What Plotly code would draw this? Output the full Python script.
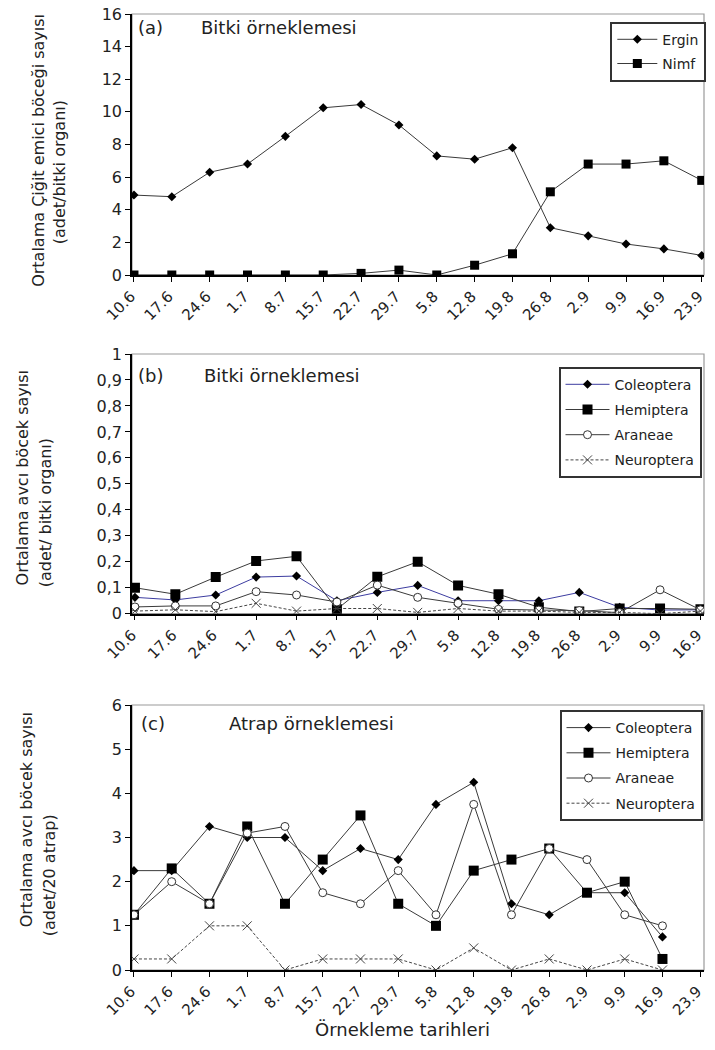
import plotly.graph_objects as go

# ---------------- data ----------------
dates_all = ["10.6", "17.6", "24.6", "1.7", "8.7", "15.7", "22.7", "29.7",
             "5.8", "12.8", "19.8", "26.8", "2.9", "9.9", "16.9", "23.9"]

# (a) plant sampling - sucking bug
ergin = [4.9, 4.8, 6.3, 6.8, 8.5, 10.25, 10.45, 9.2, 7.3, 7.1, 7.8, 2.9, 2.4, 1.9, 1.6, 1.2]
nimf = [0, 0, 0, 0, 0, 0, 0.1, 0.3, 0, 0.6, 1.3, 5.1, 6.8, 6.8, 7.0, 5.8]

# (b) plant sampling - predators
dates_b = dates_all[:15]
b_coleoptera = [0.063, 0.053, 0.072, 0.141, 0.145, 0.05, 0.082, 0.109, 0.05, 0.05, 0.05, 0.082, 0.025, 0.014, 0.015]
b_hemiptera = [0.10, 0.075, 0.141, 0.203, 0.221, 0.017, 0.142, 0.20, 0.109, 0.075, 0.025, 0.008, 0.02, 0.02, 0.017]
b_araneae = [0.026, 0.03, 0.03, 0.085, 0.072, 0.045, 0.11, 0.063, 0.04, 0.017, 0.014, 0.012, 0.004, 0.092, 0.015]
b_neuroptera = [0.01, 0.015, 0.008, 0.04, 0.01, 0.02, 0.02, 0.005, 0.02, 0.01, 0.01, 0.005, 0.005, 0.0, 0.01]
b_ticks = [0, 0.1, 0.2, 0.3, 0.4, 0.5, 0.6, 0.7, 0.8, 0.9, 1]
b_ticktext = ["0", "0,1", "0,2", "0,3", "0,4", "0,5", "0,6", "0,7", "0,8", "0,9", "1"]

# (c) sweep-net sampling - predators
dates_c = dates_all[:15]
c_coleoptera = [2.25, 2.25, 3.25, 3.0, 3.0, 2.25, 2.75, 2.5, 3.75, 4.25, 1.5, 1.25, 1.75, 1.75, 0.75]
c_hemiptera = [1.25, 2.3, 1.5, 3.25, 1.5, 2.5, 3.5, 1.5, 1.0, 2.25, 2.5, 2.75, 1.75, 2.0, 0.25]
c_araneae = [1.25, 2.0, 1.5, 3.1, 3.25, 1.75, 1.5, 2.25, 1.25, 3.75, 1.25, 2.75, 2.5, 1.25, 1.0]
c_neuroptera = [0.25, 0.25, 1.0, 1.0, 0.0, 0.25, 0.25, 0.25, 0.0, 0.5, 0.0, 0.25, 0.0, 0.25, 0.0]

# ---------------- layout helpers ----------------
OFF = 8                      # default page margin around the plot div
W, H = 715 - 2 * OFF, 1050 - 2 * OFF
L, R, T = 132 - OFF, 1, 13 - OFF
B = H - (970 - OFF)
PW, PH = W - L - R, H - T - B


def px(x):
    """page pixel x -> paper fraction"""
    return (x - OFF - L) / PW


def py(y):
    """page pixel y -> paper fraction"""
    return (H - B - (y - OFF)) / PH


FONT = "DejaVu Sans"
LINE = "#3a3a3a"
BLUE = "#3c3ca0"

fig = go.Figure()


def diamond(name, x, y, legend, group, color=LINE):
    return go.Scatter(x=x, y=y, name=name, mode="lines+markers",
                      line=dict(color=color, width=1),
                      marker=dict(symbol="diamond", size=7, color="black"),
                      legend=legend, legendgroup=group)


def square(name, x, y, legend, group, size=9):
    return go.Scatter(x=x, y=y, name=name, mode="lines+markers",
                      line=dict(color=LINE, width=1),
                      marker=dict(symbol="square", size=size, color="black"),
                      legend=legend, legendgroup=group)


def circle(name, x, y, legend, group):
    return go.Scatter(x=x, y=y, name=name, mode="lines+markers",
                      line=dict(color=LINE, width=1),
                      marker=dict(symbol="circle", size=8, color="white",
                                  line=dict(color="#333", width=1)),
                      legend=legend, legendgroup=group)


def cross(name, x, y, legend, group):
    return go.Scatter(x=x, y=y, name=name, mode="lines+markers",
                      line=dict(color="#444", width=1, dash="3px,2px"),
                      marker=dict(symbol="x-thin-open", size=9,
                                  line=dict(color="#444", width=1)),
                      legend=legend, legendgroup=group)


# panel (a)
t = diamond("Ergin", dates_all, ergin, "legend", "a1"); t.update(xaxis="x", yaxis="y"); fig.add_trace(t)
t = square("Nimf", dates_all, nimf, "legend", "a2"); t.update(xaxis="x", yaxis="y"); fig.add_trace(t)

# panel (b)
for tr in [diamond("Coleoptera", dates_b, b_coleoptera, "legend2", "b1", color=BLUE),
           square("Hemiptera", dates_b, b_hemiptera, "legend2", "b2", size=10),
           circle("Araneae", dates_b, b_araneae, "legend2", "b3"),
           cross("Neuroptera", dates_b, b_neuroptera, "legend2", "b4")]:
    tr.update(xaxis="x2", yaxis="y2")
    fig.add_trace(tr)

# panel (c)
for tr in [diamond("Coleoptera", dates_c, c_coleoptera, "legend3", "c1"),
           square("Hemiptera", dates_c, c_hemiptera, "legend3", "c2", size=10),
           circle("Araneae", dates_c, c_araneae, "legend3", "c3"),
           cross("Neuroptera", dates_c, c_neuroptera, "legend3", "c4")]:
    tr.update(xaxis="x3", yaxis="y3")
    fig.add_trace(tr)

xcommon = dict(type="category", showline=True, linecolor="black", linewidth=1.5,
               ticks="outside", ticklen=5, tickcolor="black", tickangle=-45,
               showgrid=False, zeroline=False, automargin=False, fixedrange=True,
               ticklabeloverflow="allow", ticklabelshift=-3,
               tickfont=dict(family=FONT, size=15, color="#222"))
ycommon = dict(showline=True, linecolor="black", linewidth=1.5,
               ticks="outside", ticklen=5, tickcolor="black",
               showgrid=False, zeroline=False, automargin=False, fixedrange=True,
               ticklabeloverflow="allow",
               tickfont=dict(family=FONT, size=16, color="#222"))

ya = [py(275), py(14)]
yb = [py(613.7), py(354)]
yc = [py(970), py(705)]

fig.update_layout(
    width=W, height=H, template="none",
    paper_bgcolor="white", plot_bgcolor="white",
    margin=dict(l=L, r=R, t=T, b=B),
    font=dict(family=FONT, color="#222"),
    xaxis=dict(xcommon, anchor="y", categoryorder="array", categoryarray=dates_all,
               range=[-0.052, 15.06]),
    yaxis=dict(ycommon, anchor="x", domain=ya, range=[0, 16],
               tickvals=[0, 2, 4, 6, 8, 10, 12, 14, 16]),
    xaxis2=dict(xcommon, anchor="y2", categoryorder="array", categoryarray=dates_b,
                range=[-0.073, 14.088]),
    yaxis2=dict(ycommon, anchor="x2", domain=yb, range=[0, 1],
                tickvals=b_ticks, ticktext=b_ticktext),
    xaxis3=dict(xcommon, anchor="y3", categoryorder="array", categoryarray=dates_all,
                tickvals=dates_all, range=[-0.052, 15.10]),
    yaxis3=dict(ycommon, anchor="x3", domain=yc, range=[0, 6],
                tickvals=[0, 1, 2, 3, 4, 5, 6]),
    showlegend=True,
)

leg_common = dict(bgcolor="white", bordercolor="#333", borderwidth=2,
                  font=dict(family=FONT, size=14, color="#222"),
                  xanchor="left", yanchor="top",
                  itemclick=False, itemdoubleclick=False)
fig.update_layout(
    legend=dict(leg_common, x=px(612), y=py(21.7), tracegroupgap=3, itemwidth=40),
    legend2=dict(leg_common, x=px(560), y=py(366.7), tracegroupgap=4, itemwidth=44),
    legend3=dict(leg_common, x=px(561), y=py(710), tracegroupgap=4, itemwidth=44),
)

# grey plot-area borders
for xr, yr in [("x", "y"), ("x2", "y2"), ("x3", "y3")]:
    fig.add_shape(type="rect", xref=f"{xr} domain", yref=f"{yr} domain",
                  x0=0, x1=1, y0=0, y1=1, line=dict(color="#9a9a9a", width=1.2),
                  layer="below")

anns = []


def txt(text, x, y, size=18, xanchor="left", angle=0):
    anns.append(dict(text=text, x=px(x), y=py(y), xref="paper", yref="paper",
                     showarrow=False, xanchor=xanchor, yanchor="middle",
                     textangle=angle, font=dict(family=FONT, size=size, color="#222")))


txt("(a)", 136, 27)
txt("Bitki örneklemesi", 199, 27)
txt("(b)", 136, 375)
txt("Bitki örneklemesi", 202, 375)
txt("(c)", 139, 723)
txt("Atrap örneklemesi", 227, 723)
txt("Örnekleme tarihleri", 403, 1030, xanchor="center")

txt("Ortalama Çiğit emici böceği sayısı", 37.5, 150, size=16, xanchor="center", angle=-90)
txt("(adet/bitki organı)", 60, 172, size=16, xanchor="center", angle=-90)
txt("Ortalama avcı böcek sayısı", 22, 478, size=16, xanchor="center", angle=-90)
txt("(adet/ bitki organı)", 45, 513, size=16, xanchor="center", angle=-90)
txt("Ortalama avcı böcek sayısı", 26, 820, size=16, xanchor="center", angle=-90)
txt("(adet/20 atrap)", 49, 875, size=16, xanchor="center", angle=-90)

fig.update_layout(annotations=anns)

fig.write_html("out.html")
